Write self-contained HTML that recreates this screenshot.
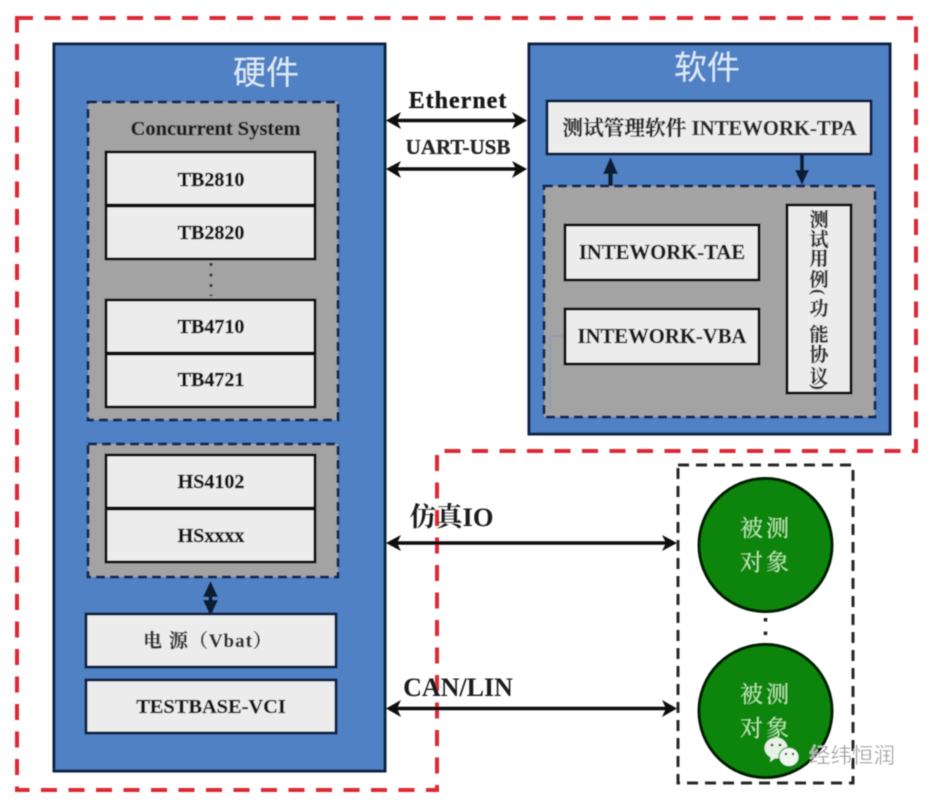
<!DOCTYPE html>
<html lang="zh">
<head>
<meta charset="utf-8">
<style>
html,body{margin:0;padding:0;background:#fff;width:943px;height:808px;overflow:hidden}
svg{display:block}
text{font-family:"Liberation Serif","Noto Serif CJK SC",serif;font-weight:bold;text-anchor:middle}
.box{fill:#ececec;stroke:#0a0a0a;stroke-width:3}
.nbox{fill:#ececec;stroke:#0b2345;stroke-width:3}
.gray{fill:#a3a3a3;stroke:#0c2a55;stroke-width:3;stroke-dasharray:9 5}
.blue{fill:#4f81c4;stroke:#0b2345;stroke-width:3}
.t{font-size:20px;fill:#151515;stroke:#151515;stroke-width:.4}
.w{font-size:33px;fill:#dbe8f6;font-weight:normal;font-family:"Noto Sans CJK SC",sans-serif}
.g{font-size:23px;fill:#b9ecb0;font-family:"Noto Serif CJK SC",serif;font-weight:normal}
.a{stroke:#0a0a0a;stroke-width:3.5;fill:none}
</style>
</head>
<body>
<svg width="943" height="808" viewBox="0 0 943 808" xmlns="http://www.w3.org/2000/svg">
<defs>
<filter id="b" x="-5%" y="-5%" width="110%" height="110%"><feGaussianBlur stdDeviation="0.5"/></filter>
</defs>
<rect width="943" height="808" fill="#fff"/>
<g filter="url(#b)">
<!-- red dashed outline -->
<path d="M17 18H916V451H437V790H17Z" fill="none" stroke="#dc2c36" stroke-width="4" stroke-dasharray="16 11.5"/>

<!-- hardware panel -->
<rect class="blue" x="54" y="44" width="331" height="727"/>
<text class="w" x="266" y="84">硬件</text>

<rect class="gray" x="88" y="102" width="250" height="318"/>
<text x="215.500" y="135" style="font-size:20.500px;fill:#1a1a1a;stroke:#1a1a1a;stroke-width:.3">Concurrent System</text>
<rect class="box" x="106" y="152" width="209" height="53"/>
<rect class="box" x="106" y="206" width="209" height="53"/>
<rect class="box" x="106" y="300" width="209" height="53"/>
<rect class="box" x="106" y="354" width="209" height="53"/>
<text class="t" x="211" y="186">TB2810</text>
<text class="t" x="211" y="239">TB2820</text>
<text class="t" x="211" y="333">TB4710</text>
<text class="t" x="211" y="386">TB4721</text>
<path d="M211 263V296" stroke="#333" stroke-width="3" stroke-dasharray="3 7.500" fill="none"/>

<rect class="gray" x="88" y="444" width="250" height="133"/>
<rect class="box" x="106" y="455" width="209" height="53"/>
<rect class="box" x="106" y="509" width="209" height="53"/>
<text class="t" x="211" y="488">HS4102</text>
<text class="t" x="211" y="542">HSxxxx</text>

<path d="M210.500 585V610" stroke="#081a33" stroke-width="4"/>
<path d="M203 597L210.500 581L218 597ZM203 600L210.500 616L218 600Z" fill="#081a33"/>

<rect class="nbox" x="86" y="614" width="250" height="53"/>
<rect class="nbox" x="86" y="680" width="250" height="53"/>
<text x="208" y="647" style="font-size:19px;fill:#333;stroke:#333;stroke-width:.3;letter-spacing:1px">电 源（Vbat）</text>
<text x="211" y="713" style="font-size:20.400px;fill:#151515;stroke:#151515;stroke-width:.3">TESTBASE-VCI</text>

<!-- software panel -->
<rect class="blue" x="529" y="44" width="361" height="390"/>
<text class="w" x="707" y="79">软件</text>
<rect class="nbox" x="547" y="101" width="324" height="53"/>
<text x="709.500" y="135" style="font-size:20.700px;fill:#2b2b2b;stroke:#2b2b2b;stroke-width:.3">测试管理软件 INTEWORK-TPA</text>

<path d="M610.500 186V166" stroke="#081a33" stroke-width="4.500"/>
<path d="M603 174L610.500 157L618 174Z" fill="#081a33"/>
<path d="M802 155V175" stroke="#081a33" stroke-width="4"/>
<path d="M795 170L802 185L809 170Z" fill="#081a33"/>

<rect class="gray" x="544" y="186" width="331" height="231"/>
<path d="M550 336H564M550 336V410" stroke="#8a9cb5" stroke-width="1.500" fill="none"/>
<rect class="box" x="565" y="225" width="194" height="55"/>
<rect class="box" x="565" y="309" width="194" height="55"/>
<text x="662" y="259" style="font-size:20.700px;fill:#1f1f1f;stroke:#1f1f1f;stroke-width:.3">INTEWORK-TAE</text>
<text x="662" y="343" style="font-size:20.700px;fill:#1f1f1f;stroke:#1f1f1f;stroke-width:.3">INTEWORK-VBA</text>
<rect class="box" x="787" y="205" width="64" height="188"/>
<g style="font-size:19px;fill:#333;stroke:#333;stroke-width:.3;font-family:'Noto Serif CJK SC',serif">
<text x="819" y="226">测</text>
<text x="819" y="246">试</text>
<text x="819" y="265">用</text>
<text x="819" y="286">例</text>
<text x="819" y="298" transform="rotate(90 819 292)" style="font-family:'Liberation Serif',serif;font-size:17px">(</text>
<text x="819" y="315">功</text>
<text x="819" y="341">能</text>
<text x="819" y="361">协</text>
<text x="819" y="383">议</text>
<text x="819" y="393" transform="rotate(90 819 387)" style="font-family:'Liberation Serif',serif;font-size:17px">)</text>
</g>

<!-- connectors -->
<path class="a" d="M392 120.500H522"/>
<path d="M386 120.500L401 112L397 120.500L401 129ZM527 120.500L512 112L516 120.500L512 129Z" fill="#0a0a0a"/>
<path class="a" d="M392 169H522"/>
<path d="M386 169L401 161L397 169L401 178ZM527 169L512 161L516 169L512 178Z" fill="#0a0a0a"/>
<path class="a" d="M392 543H672"/>
<path d="M386 543L401 535L397 543L401 551ZM677 543L662 535L666 543L662 551Z" fill="#0a0a0a"/>
<path class="a" d="M392 708.500H672"/>
<path d="M386 708.500L401 700L397 708.500L401 717ZM677 708.500L662 700L666 708.500L662 717Z" fill="#0a0a0a"/>
<text x="458" y="108" style="font-size:24px;letter-spacing:1px;fill:#141414;stroke:#141414;stroke-width:.3">Ethernet</text>
<text x="458" y="154" style="font-size:21px;fill:#262626;stroke:#262626;stroke-width:.3">UART-USB</text>
<text x="451.500" y="526" style="font-size:26.500px;fill:#1d1d1d">仿真IO</text>
<text x="458" y="696" style="font-size:26px;fill:#1d1d1d">CAN/LIN</text>

<!-- targets -->
<rect x="678" y="465" width="175" height="318" fill="none" stroke="#2b2b2b" stroke-width="3" stroke-dasharray="11 7"/>
<circle cx="765.500" cy="545" r="66.500" fill="#078507" stroke="#041a04" stroke-width="3"/>
<circle cx="765.500" cy="711" r="66.500" fill="#078507" stroke="#041a04" stroke-width="3"/>
<text class="g" x="766" y="536" letter-spacing="3">被测</text>
<text class="g" x="766" y="570" letter-spacing="3">对象</text>
<text class="g" x="766" y="702" letter-spacing="3">被测</text>
<text class="g" x="766" y="736" letter-spacing="3">对象</text>
<path d="M765.500 618V642" stroke="#222" stroke-width="3.500" stroke-dasharray="3.500 10" fill="none"/>

<!-- watermark -->
<ellipse cx="776" cy="748" rx="11.500" ry="10.500" fill="#e6f2e6"/>
<path d="M771 755L770 762L778 756Z" fill="#e6f2e6"/>
<ellipse cx="789" cy="757" rx="10" ry="9.500" fill="#eef6ee" stroke="#078507" stroke-width="1"/>
<circle cx="772" cy="745" r="1.300" fill="#333"/><circle cx="780" cy="745" r="1.300" fill="#333"/>
<circle cx="786" cy="754" r="1.200" fill="#333"/><circle cx="793" cy="754" r="1.200" fill="#333"/>
<text x="852" y="763" style="font-size:21.500px;font-weight:normal;fill:#8c8c8c;stroke:#fff;stroke-width:.4;font-family:'Noto Sans CJK SC',sans-serif">经纬恒润</text>
</g>
</svg>
</body>
</html>
